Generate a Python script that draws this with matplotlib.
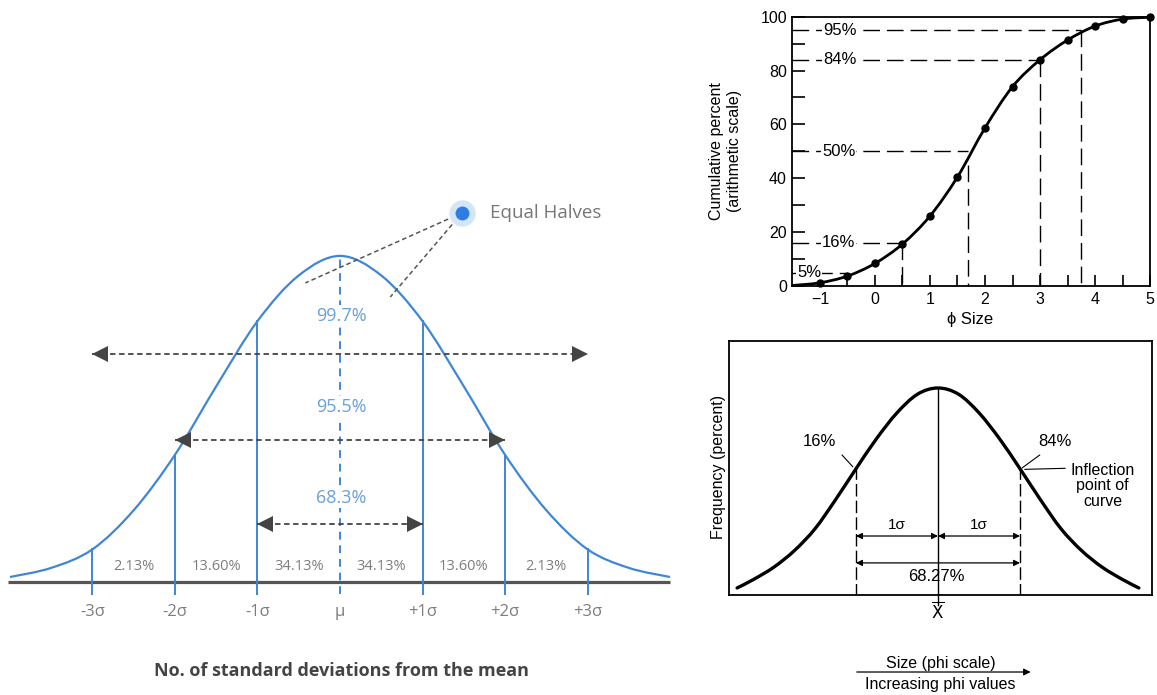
import numpy as np
import matplotlib.pyplot as plt
from matplotlib.path import Path
from matplotlib.patches import PathPatch
from matplotlib.transforms import offset_copy

# ---- left panel: normal curve (sigma units, height relative to peak)
curve_s = [-4, -3.5, -3, -2.5, -2, -1.5, -1, -0.5, 0, 0.5, 1, 1.5, 2, 2.5, 3, 3.5, 4]
curve_h = [0.015, 0.043, 0.10, 0.22, 0.39, 0.60, 0.80, 0.94, 1.0,
           0.94, 0.80, 0.60, 0.39, 0.22, 0.10, 0.043, 0.015]
sd_ticks = [-3, -2, -1, 0, 1, 2, 3]
sd_labels = ['-3σ', '-2σ', '-1σ', 'μ', '+1σ', '+2σ', '+3σ']
band_mid = [-2.5, -1.5, -0.5, 0.5, 1.5, 2.5]
band_pct = ['2.13%', '13.60%', '34.13%', '34.13%', '13.60%', '2.13%']
range_sd = [1, 2, 3]
range_pct = ['68.3%', '95.5%', '99.7%']
range_arrow_h = [0.178, 0.436, 0.70]
range_text_h = [0.258, 0.537, 0.816]
halves_dot = (1.48, 1.132)
halves_targets = [(-0.42, 0.917), (0.61, 0.874)]

# ---- top right: cumulative curve
phi = [-1.5, -1, -0.5, 0, 0.5, 1, 1.5, 2, 2.5, 3, 3.5, 4, 4.5, 5]
cum = [0.2, 1.2, 3.7, 8.4, 15.6, 26, 40.5, 58.7, 74, 84, 91.3, 96.5, 99.1, 99.8]
pct_levels = [5, 16, 50, 84, 95]
pct_names = ['5%', '16%', '50%', '84%', '95%']
pct_phi = [-0.5, 0.5, 1.7, 3.0, 3.75]
pct_vert_top = [None, 16, 45, 84, 95]
pct_text_x = [-1.2, -0.66, -0.66, -0.64, -0.64]

# ---- bottom right: frequency curve (sigma units)
freq_s = [-2.45, -2.25, -2, -1.75, -1.5, -1.25, -1, -0.75, -0.5, -0.25, 0,
          0.25, 0.5, 0.75, 1, 1.25, 1.5, 1.75, 2, 2.25, 2.45]
freq_h = [0.034, 0.075, 0.135, 0.215, 0.32, 0.46, 0.61, 0.755, 0.88, 0.97, 1.0,
          0.97, 0.88, 0.755, 0.61, 0.46, 0.32, 0.215, 0.135, 0.075, 0.034]


def smooth_path(x, y):
    pts = np.column_stack([x, y]).astype(float)
    verts = [pts[0]]
    codes = [Path.MOVETO]
    n = len(pts)
    for i in range(n - 1):
        p0 = pts[max(i - 1, 0)]
        p1 = pts[i]
        p2 = pts[i + 1]
        p3 = pts[min(i + 2, n - 1)]
        verts += [p1 + (p2 - p0) / 6, p2 - (p3 - p1) / 6, p2]
        codes += [Path.CURVE4] * 3
    return Path(verts, codes)


fig = plt.figure(figsize=(11.57, 6.95), dpi=100)

# ================= left panel =================
ofont = ['Open Sans', 'DejaVu Sans']
blue = '#3f86d6'
lblue = '#6a9fd8'
gray = '#7d7d7d'
dark = '#444444'

ax1 = fig.add_axes([0, 0, 680 / 1157, 1])
ax1.set_xlim(-4.121, 4.121)
ax1.set_ylim(-0.347, 1.785)
ax1.axis('off')

ax1.plot([-4.03, 4.0], [0, 0], color='#555555', lw=2.3, solid_capstyle='butt')
ax1.add_patch(PathPatch(smooth_path(curve_s, curve_h), fill=False, ec=blue, lw=1.6))

hmap = dict(zip(curve_s, curve_h))
for s, lab in zip(sd_ticks, sd_labels):
    if s == 0:
        ax1.plot([0, 0], [-0.037, 1.0], color=blue, lw=1.4, dashes=(4, 3))
    else:
        ax1.plot([s, s], [-0.037, hmap[s]], color=blue, lw=1.4)
    ax1.text(s, -0.092, lab, ha='center', va='center', fontsize=12,
             color=gray, family=ofont)

for m, p in zip(band_mid, band_pct):
    ax1.text(m, 0.046, p, ha='center', va='center', fontsize=10.5,
             color=gray, family=ofont)

ms = 11
tr_l = offset_copy(ax1.transData, fig=fig, x=ms / 2, y=0, units='points')
tr_r = offset_copy(ax1.transData, fig=fig, x=-ms / 2, y=0, units='points')
for k, p, ha, th in zip(range_sd, range_pct, range_arrow_h, range_text_h):
    ax1.plot([-k, k], [ha, ha], color=dark, lw=1.3, dashes=(3, 2))
    ax1.plot([-k], [ha], marker='<', ms=ms, color=dark, mew=0, transform=tr_l)
    ax1.plot([k], [ha], marker='>', ms=ms, color=dark, mew=0, transform=tr_r)
    ax1.text(0.02, th, p, ha='center', va='center', fontsize=13,
             color=lblue, family=ofont,
             bbox=dict(fc='white', ec='none', pad=1))

for tx, ty in halves_targets:
    ax1.plot([halves_dot[0], tx], [halves_dot[1], ty], color='#555555',
             lw=1.1, dashes=(3, 2))
ax1.plot(*halves_dot, marker='o', ms=19, color='#d3e5f9', mew=0)
ax1.plot(*halves_dot, marker='o', ms=10, color='#2f7de1', mew=0)
ax1.text(halves_dot[0] + 0.34, halves_dot[1], 'Equal Halves', ha='left',
         va='center', fontsize=13.5, color='#777777', family=ofont)

ax1.text(0.02, -0.273, 'No. of standard deviations from the mean',
         ha='center', va='center', fontsize=13, fontweight='bold',
         color='#444444', family=ofont)

# ================= top right =================
hfont = ['Liberation Sans', 'DejaVu Sans']
ax2 = fig.add_axes([792.5 / 1157, (695 - 286) / 695, 357.5 / 1157, 269.3 / 695])
ax2.set_xlim(-1.5, 5)
ax2.set_ylim(0, 100)
for sp in ax2.spines.values():
    sp.set_linewidth(1.3)
ax2.set_xticks(range(-1, 6))
ax2.set_xticks(np.arange(-0.5, 5, 1.0), minor=True)
ax2.set_yticks(range(0, 101, 20))
ax2.set_yticks(range(10, 100, 20), minor=True)
ax2.tick_params(axis='x', which='both', direction='in', length=8, width=1.2, pad=4)
ax2.tick_params(axis='y', which='both', direction='in', length=9, width=1.2, pad=4)
for t in ax2.get_xticklabels() + ax2.get_yticklabels():
    t.set_fontsize(11.5)
    t.set_family(hfont)

ax2.add_patch(PathPatch(smooth_path(phi, cum), fill=False, ec='black',
                        lw=2.0, clip_on=False))
ax2.plot(phi[1:], cum[1:], 'o', color='black', ms=5, clip_on=False, zorder=5)

for lvl, name, px, vt, tx in zip(pct_levels, pct_names, pct_phi, pct_vert_top, pct_text_x):
    ax2.plot([-1.5, px], [lvl, lvl], color='black', lw=1.0, dashes=(12, 5))
    if vt is not None:
        ax2.plot([px, px], [vt, 0], color='black', lw=1.0, dashes=(12, 5))
    ax2.text(tx, lvl, name, ha='center', va='center', fontsize=12,
             family=hfont, bbox=dict(fc='white', ec='none', pad=0.5))

ax2.set_ylabel('Cumulative percent\n(arithmetic scale)', fontsize=11.5,
               family=hfont, linespacing=1.3)
ax2.yaxis.set_label_coords(-0.14, 0.5)
ax2.set_xlabel('ϕ Size', fontsize=12, family=hfont)
ax2.xaxis.set_label_coords(0.497, -0.095)

# ================= bottom right =================
ax3 = fig.add_axes([729 / 1157, (695 - 595) / 695, 423 / 1157, 254 / 695])
ax3.set_xlim(-2.549, 2.61)
ax3.set_ylim(0, 1.227)
ax3.set_xticks([])
ax3.set_yticks([])
for sp in ax3.spines.values():
    sp.set_linewidth(1.3)

ax3.add_patch(PathPatch(smooth_path(freq_s, freq_h), fill=False, ec='black',
                        lw=2.4, capstyle='round'))
fmap = dict(zip(freq_s, freq_h))
ax3.plot([0, 0], [-0.048, fmap[0]], color='black', lw=1.0, clip_on=False)
for s in (-1, 1):
    ax3.plot([s, s], [-0.005, fmap[s]], color='black', lw=1.0, dashes=(9, 3))

aprops = dict(arrowstyle='<|-|>', color='black', lw=0.9, mutation_scale=9,
              shrinkA=0, shrinkB=0)
ax3.annotate('', xy=(0, 0.285), xytext=(-1, 0.285), arrowprops=aprops)
ax3.annotate('', xy=(1, 0.285), xytext=(0, 0.285), arrowprops=aprops)
ax3.annotate('', xy=(1, 0.155), xytext=(-1, 0.155), arrowprops=aprops)
ax3.text(-0.5, 0.34, '1σ', ha='center', va='center', fontsize=11, family=hfont)
ax3.text(0.5, 0.34, '1σ', ha='center', va='center', fontsize=11, family=hfont)
ax3.text(-0.02, 0.087, '68.27%', ha='center', va='center', fontsize=12, family=hfont)

ax3.text(-1.44, 0.74, '16%', ha='center', va='center', fontsize=12, family=hfont)
ax3.plot([-1.17, -1.04], [0.676, 0.62], color='black', lw=0.8)
ax3.text(1.43, 0.74, '84%', ha='center', va='center', fontsize=12, family=hfont)
ax3.plot([1.24, 1.03], [0.676, 0.615], color='black', lw=0.8)
ax3.plot([1.06, 1.55], [0.607, 0.612], color='black', lw=0.8)
ax3.text(2.01, 0.527, 'Inflection\npoint of\ncurve', ha='center', va='center',
         fontsize=11.5, family=hfont, linespacing=1.05)

ax3.text(-2.68, 0.618, 'Frequency (percent)', rotation=90, ha='center',
         va='center', fontsize=11.5, family=hfont, clip_on=False)
ax3.text(0, -0.082, r'$\overline{\mathrm{X}}$', ha='center', va='center',
         fontsize=12, clip_on=False)
ax3.text(0.03, -0.33, 'Size (phi scale)', ha='center', va='center',
         fontsize=11.5, family=hfont, clip_on=False)
ax3.annotate('', xy=(1.13, -0.372), xytext=(-0.99, -0.372),
             arrowprops=dict(arrowstyle='-|>', color='black', lw=0.9,
                             mutation_scale=10, shrinkA=0, shrinkB=0),
             annotation_clip=False)
ax3.text(0.03, -0.43, 'Increasing phi values', ha='center', va='center',
         fontsize=11.5, family=hfont, clip_on=False)

fig.savefig('out.png', dpi=100)
